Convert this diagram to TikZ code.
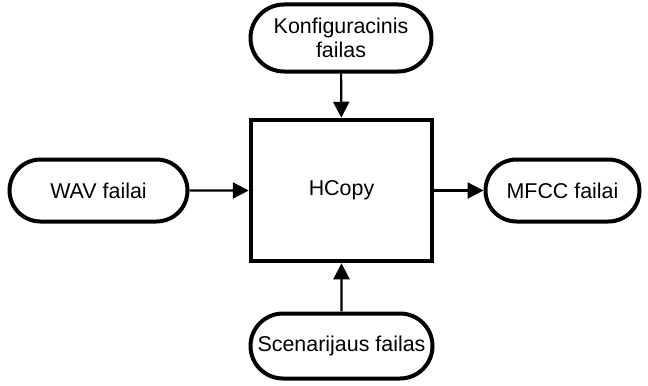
\documentclass[tikz,border=0pt]{standalone}
\usepackage{fontspec}
\setmainfont{Liberation Sans}
\usetikzlibrary{shapes.misc,arrows.meta}
\begin{document}
\begin{tikzpicture}[x=1bp,y=1bp,
  pill/.style={rounded rectangle, draw, line width=4bp, inner sep=0pt, align=center, font=\fontsize{21.5}{24}\selectfont},
  proc/.style={rectangle, draw, line width=4.5bp, inner sep=0pt, font=\fontsize{21.5}{24}\selectfont},
  flow/.style={line width=2.2bp, -{Triangle[length=16bp,width=16bp]}}]
\useasboundingbox (0,0) rectangle (648,385);
\node[pill, minimum width=181bp, minimum height=67bp] (top) at (341,347) {Konfiguracinis\\failas};
\node[proc, minimum width=181bp, minimum height=141bp] (box) at (341.5,194.5) {HCopy};
\node[pill, minimum width=178bp, minimum height=62bp] (left) at (98.5,194.5) {WAV failai};
\node[pill, minimum width=154bp, minimum height=62bp] (right) at (562.5,194.5) {MFCC failai};
\node[pill, minimum width=182bp, minimum height=65bp] (bottom) at (341.5,39) {Scenarijaus failas};
\draw[flow] (top) -- (box);
\draw[flow] (bottom) -- (box);
\draw[flow] (left) -- (box);
\draw[flow] (box) -- (right);
\end{tikzpicture}
\end{document}
